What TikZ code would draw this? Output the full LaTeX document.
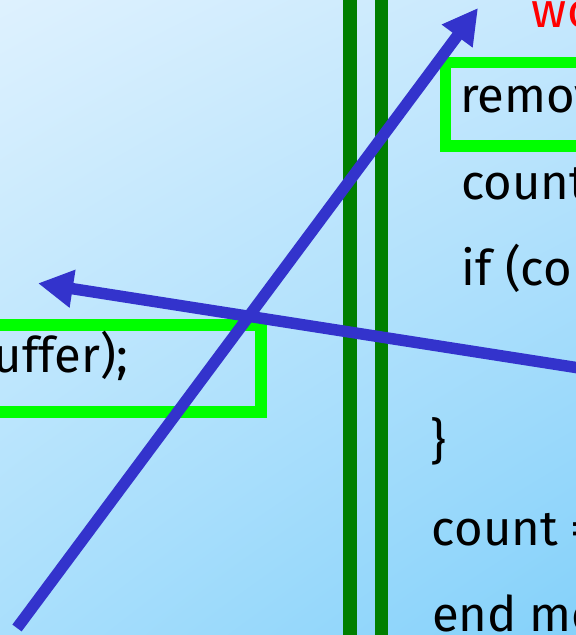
\documentclass[tikz,border=0pt]{standalone}
\usepackage{fontspec}
\setmainfont{Fira Sans}
\usetikzlibrary{arrows.meta,shadings}
\definecolor{bgUL}{HTML}{DEF1FE}
\definecolor{bgUR}{HTML}{C6E8FD}
\definecolor{bgLL}{HTML}{A9DFFC}
\definecolor{bgLR}{HTML}{84D1FA}
\definecolor{rail}{HTML}{007F00}
\definecolor{boxgreen}{HTML}{00FF00}
\definecolor{arrowblue}{HTML}{3333CC}
\tikzset{
  code/.style={anchor=base west, inner sep=0pt, font=\fontsize{49pt}{49pt}\selectfont, text=black},
  railline/.style={draw=rail, line width=13.3pt},
  hibox/.style={draw=boxgreen, line width=11.7pt},
  bigarrow/.style={draw=arrowblue, line width=11.5pt, -{Triangle[length=35pt,width=36pt]}}
}
\begin{document}
\begin{tikzpicture}[x=1pt,y=-1pt]
  \useasboundingbox (0,0) rectangle (576,635);
  \clip (0,0) rectangle (576,635);
  \shade[upper left=bgUL, upper right=bgUR, lower left=bgLL, lower right=bgLR] (0,0) rectangle (576,635);
  % rails
  \draw[railline] (350,-10) -- (350,645);
  \draw[railline] (381.7,-10) -- (381.7,645);
  % highlight boxes
  \draw[hibox] (445.5,62.5) rectangle (620,146);
  \draw[hibox] (-40,325) rectangle (261,411.7);
  % code text
  \node[code, text=red] (t0) at (531.7,27) {wo};
  \node[code] (t1) at (460,112) {remov};
  \node[code] (t2) at (461,199) {count};
  \node[code] (t3) at (461.7,285) {if (co};
  \node[code] (t4) at (430,458) {\}};
  \node[code] (t5) at (431.7,545) {count =};
  \node[code] (t6) at (432,631) {end mo};
  \node[code, anchor=base east] (t7) at (128,372) {uffer);};
  % arrows
  \coordinate (a1s) at (17,628);
  \coordinate (a1e) at (478,8);
  \coordinate (a2s) at (590,369.7);
  \coordinate (a2e) at (38,283.3);
  \draw[bigarrow] (a1s) -- (a1e);
  \draw[bigarrow] (a2s) -- (a2e);
\end{tikzpicture}
\end{document}
